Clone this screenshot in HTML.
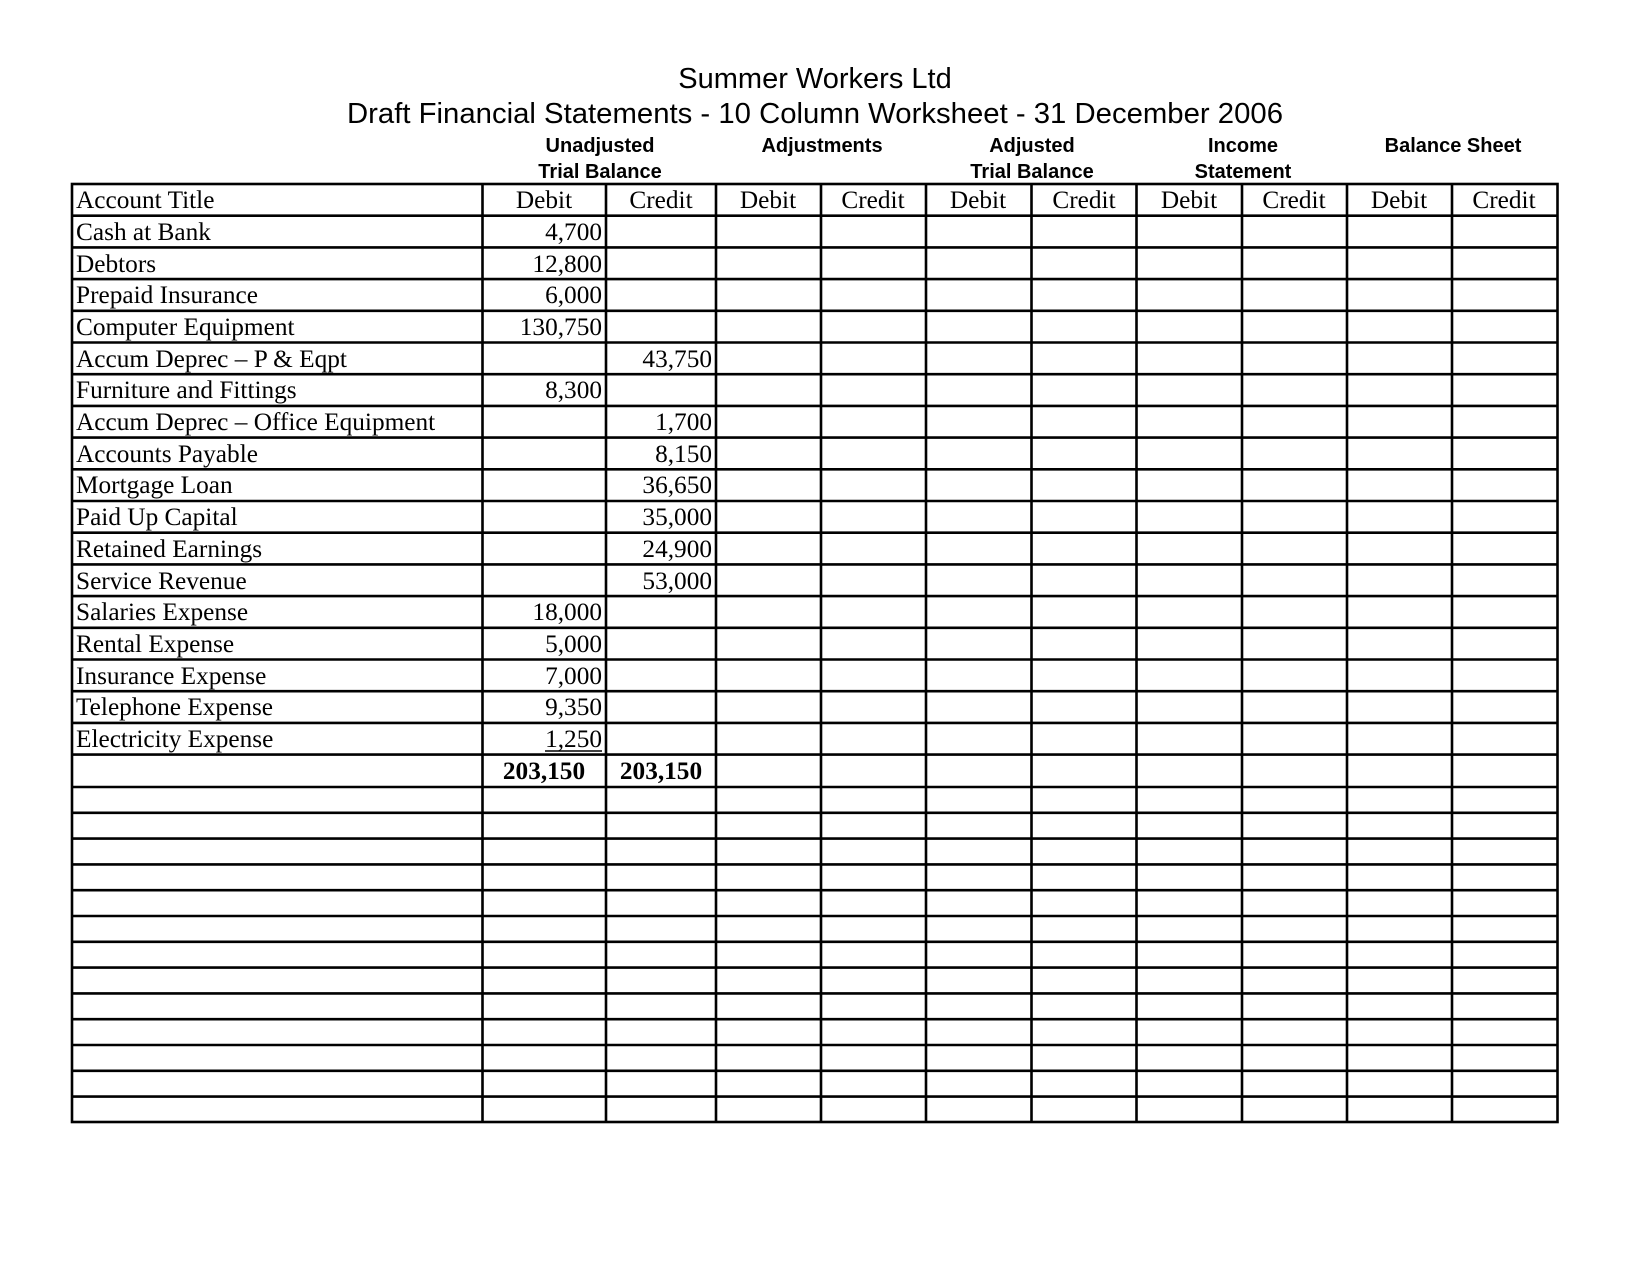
<!DOCTYPE html>
<html><head><meta charset="utf-8"><style>
html,body{margin:0;padding:0;background:#fff;}
svg{display:block;}
.t{font-family:"Liberation Serif",serif;font-size:25.3px;fill:#000;}
.h{font-family:"Liberation Sans",sans-serif;font-weight:bold;font-size:20px;fill:#000;}
.ti{font-family:"Liberation Sans",sans-serif;font-size:29px;fill:#000;}
</style></head><body>
<svg width="1650" height="1275" viewBox="0 0 1650 1275" xmlns="http://www.w3.org/2000/svg">
<text class="ti" x="815" y="88" text-anchor="middle">Summer Workers Ltd</text>
<text class="ti" x="815" y="123" text-anchor="middle" textLength="936" lengthAdjust="spacingAndGlyphs">Draft Financial Statements - 10 Column Worksheet - 31 December 2006</text>
<g class="h" text-anchor="middle">
<text x="600" y="152">Unadjusted</text><text x="600" y="178">Trial Balance</text>
<text x="822" y="152">Adjustments</text>
<text x="1032" y="152">Adjusted</text><text x="1032" y="178">Trial Balance</text>
<text x="1243" y="152">Income</text><text x="1243" y="178">Statement</text>
<text x="1453" y="152">Balance Sheet</text>
</g>
<g stroke="#000" stroke-width="2.6" fill="none">
<rect x="72" y="184" width="1485.5" height="938"/>
<path d="M482.5 184V1122M606 184V1122M716 184V1122M821 184V1122M926 184V1122M1031.5 184V1122M1136.5 184V1122M1242 184V1122M1347 184V1122M1452 184V1122"/>
<path d="M72 215.7H1557M72 247.4H1557M72 279.1H1557M72 310.8H1557M72 342.5H1557M72 374.2H1557M72 405.9H1557M72 437.6H1557M72 469.3H1557M72 501H1557M72 532.7H1557M72 564.4H1557M72 596.1H1557M72 627.8H1557M72 659.5H1557M72 691.2H1557M72 722.9H1557M72 754.6H1557M72 787H1557M72 812.8H1557M72 838.6H1557M72 864.4H1557M72 890.2H1557M72 916H1557M72 941.8H1557M72 967.6H1557M72 993.4H1557M72 1019.2H1557M72 1045H1557M72 1070.8H1557M72 1096.6H1557"/>
</g>
<g class="t">
<text x="76" y="208">Account Title</text>
<text x="544" y="208" text-anchor="middle">Debit</text><text x="661" y="208" text-anchor="middle">Credit</text>
<text x="768" y="208" text-anchor="middle">Debit</text><text x="873" y="208" text-anchor="middle">Credit</text>
<text x="978" y="208" text-anchor="middle">Debit</text><text x="1084" y="208" text-anchor="middle">Credit</text>
<text x="1189" y="208" text-anchor="middle">Debit</text><text x="1294" y="208" text-anchor="middle">Credit</text>
<text x="1399" y="208" text-anchor="middle">Debit</text><text x="1504" y="208" text-anchor="middle">Credit</text>
<text x="76" y="240">Cash at Bank</text><text x="602" y="240" text-anchor="end">4,700</text>
<text x="76" y="272">Debtors</text><text x="602" y="272" text-anchor="end">12,800</text>
<text x="76" y="303">Prepaid Insurance</text><text x="602" y="303" text-anchor="end">6,000</text>
<text x="76" y="335">Computer Equipment</text><text x="602" y="335" text-anchor="end">130,750</text>
<text x="76" y="367">Accum Deprec – P &amp; Eqpt</text><text x="712" y="367" text-anchor="end">43,750</text>
<text x="76" y="398">Furniture and Fittings</text><text x="602" y="398" text-anchor="end">8,300</text>
<text x="76" y="430">Accum Deprec – Office Equipment</text><text x="712" y="430" text-anchor="end">1,700</text>
<text x="76" y="462">Accounts Payable</text><text x="712" y="462" text-anchor="end">8,150</text>
<text x="76" y="493">Mortgage Loan</text><text x="712" y="493" text-anchor="end">36,650</text>
<text x="76" y="525">Paid Up Capital</text><text x="712" y="525" text-anchor="end">35,000</text>
<text x="76" y="557">Retained Earnings</text><text x="712" y="557" text-anchor="end">24,900</text>
<text x="76" y="589">Service Revenue</text><text x="712" y="589" text-anchor="end">53,000</text>
<text x="76" y="620">Salaries Expense</text><text x="602" y="620" text-anchor="end">18,000</text>
<text x="76" y="652">Rental Expense</text><text x="602" y="652" text-anchor="end">5,000</text>
<text x="76" y="684">Insurance Expense</text><text x="602" y="684" text-anchor="end">7,000</text>
<text x="76" y="715">Telephone Expense</text><text x="602" y="715" text-anchor="end">9,350</text>
<text x="76" y="747">Electricity Expense</text><text x="602" y="747" text-anchor="end">1,250</text>
<text x="544" y="779" text-anchor="middle" font-weight="bold">203,150</text>
<text x="661" y="779" text-anchor="middle" font-weight="bold">203,150</text>
</g>
<path d="M545 751H602" stroke="#000" stroke-width="1.5"/>
</svg>
</body></html>
